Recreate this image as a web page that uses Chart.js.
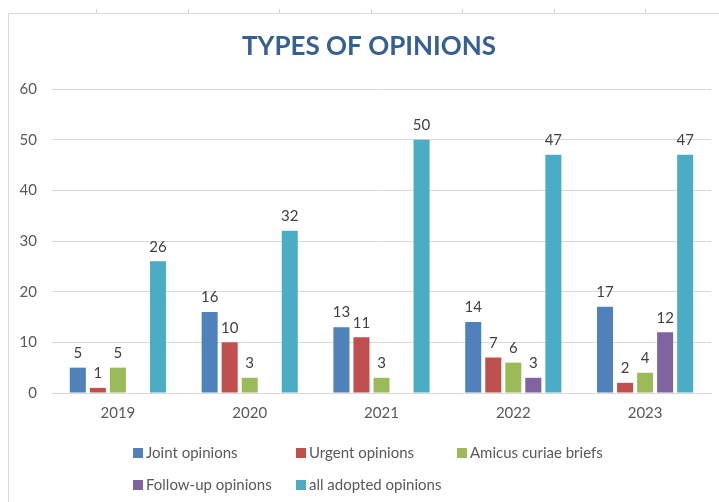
<!DOCTYPE html>
<html>
<head>
<meta charset="utf-8">
<script src="https://cdn.jsdelivr.net/npm/chart.js@4/dist/chart.umd.min.js"></script>
<style>
html,body{margin:0;padding:0;background:#fff;}
#wrap{width:719px;height:502px;position:relative;}
</style>
</head>
<body>
<div id="wrap"><canvas id="c" width="719" height="502"></canvas></div>
<script>
const years = ['2019', '2020', '2021', '2022', '2023'];
const jointOpinions = [5, 16, 13, 14, 17];
const urgentOpinions = [1, 10, 11, 7, 2];
const amicusBriefs = [5, 3, 3, 6, 4];
const followUpOpinions = [null, null, null, 3, 12];
const allAdopted = [26, 32, 50, 47, 47];
const seriesNames = ['Joint opinions', 'Urgent opinions', 'Amicus curiae briefs', 'Follow-up opinions', 'all adopted opinions'];
const yTicks = [0, 10, 20, 30, 40, 50, 60];

const colors = ['#4F81BD', '#C0504D', '#9BBB59', '#8064A2', '#4BACC6'];
const seriesData = [jointOpinions, urgentOpinions, amicusBriefs, followUpOpinions, allAdopted];
const FONT = 'Lato, "Open Sans", sans-serif';

const decorPlugin = {
  id: 'decor',
  beforeDraw(chart) {
    const ctx = chart.ctx;
    ctx.save();
    ctx.fillStyle = '#fff';
    ctx.fillRect(0, 0, chart.width, chart.height);
    ctx.strokeStyle = '#d4d4d4';
    ctx.lineWidth = 1;
    [96, 188, 279, 371, 462, 554, 645].forEach(x => {
      ctx.beginPath(); ctx.moveTo(x + 0.5, 9); ctx.lineTo(x + 0.5, 13); ctx.stroke();
    });
    ctx.strokeStyle = '#d9d9d9';
    ctx.beginPath();
    ctx.moveTo(8.5, 510); ctx.lineTo(8.5, 13.5); ctx.lineTo(725, 13.5);
    ctx.stroke();
    ctx.fillStyle = '#376092';
    ctx.font = 'bold 26px ' + FONT;
    ctx.textAlign = 'center';
    ctx.textBaseline = 'middle';
    ctx.fillText('TYPES OF OPINIONS', 369, 47);
    ctx.restore();
  },
  afterDatasetsDraw(chart) {
    const ctx = chart.ctx;
    ctx.save();
    ctx.fillStyle = '#404040';
    ctx.font = '15px ' + FONT;
    ctx.textAlign = 'center';
    ctx.textBaseline = 'bottom';
    chart.data.datasets.forEach((ds, i) => {
      const meta = chart.getDatasetMeta(i);
      meta.data.forEach((bar, j) => {
        const v = ds.data[j];
        if (v === null || v === undefined) return;
        ctx.fillText(String(v), bar.x, bar.y - 7);
      });
    });
    ctx.font = '15px ' + FONT;
    ctx.textAlign = 'left';
    ctx.textBaseline = 'middle';
    const colX = [133, 296, 457];
    const rowY = [453, 485];
    seriesNames.forEach((name, i) => {
      const x = colX[i % 3];
      const y = rowY[Math.floor(i / 3)];
      ctx.fillStyle = colors[i];
      ctx.fillRect(x, y - 5, 10, 10);
      ctx.fillStyle = '#595959';
      ctx.fillText(name, x + 13, y);
    });
    ctx.restore();
  }
};

new Chart(document.getElementById('c'), {
  type: 'bar',
  data: {
    labels: years,
    datasets: seriesNames.map((n, i) => ({
      label: n,
      data: seriesData[i],
      backgroundColor: colors[i],
      borderWidth: 0,
      categoryPercentage: 0.76,
      barPercentage: 0.8
    }))
  },
  options: {
    responsive: false,
    animation: false,
    layout: { padding: { top: 89, left: 0, right: 8, bottom: 0 } },
    plugins: {
      legend: { display: false },
      title: { display: false },
      tooltip: { enabled: false }
    },
    scales: {
      x: {
        grid: { display: false, drawTicks: false },
        border: { display: true, color: '#d9d9d9', width: 1 },
        ticks: { color: '#595959', font: { family: FONT, size: 15 }, padding: 11 },
        afterFit(scale) { scale.height = 109; }
      },
      y: {
        min: 0,
        max: 60,
        afterBuildTicks(scale) { scale.ticks = yTicks.map(v => ({ value: v })); },
        grid: { color: '#d9d9d9', drawTicks: false },
        border: { display: false },
        ticks: { color: '#595959', font: { family: FONT, size: 15 }, padding: 15 },
        afterFit(scale) { scale.width = 52; }
      }
    }
  },
  plugins: [decorPlugin]
});
</script>
</body>
</html>
